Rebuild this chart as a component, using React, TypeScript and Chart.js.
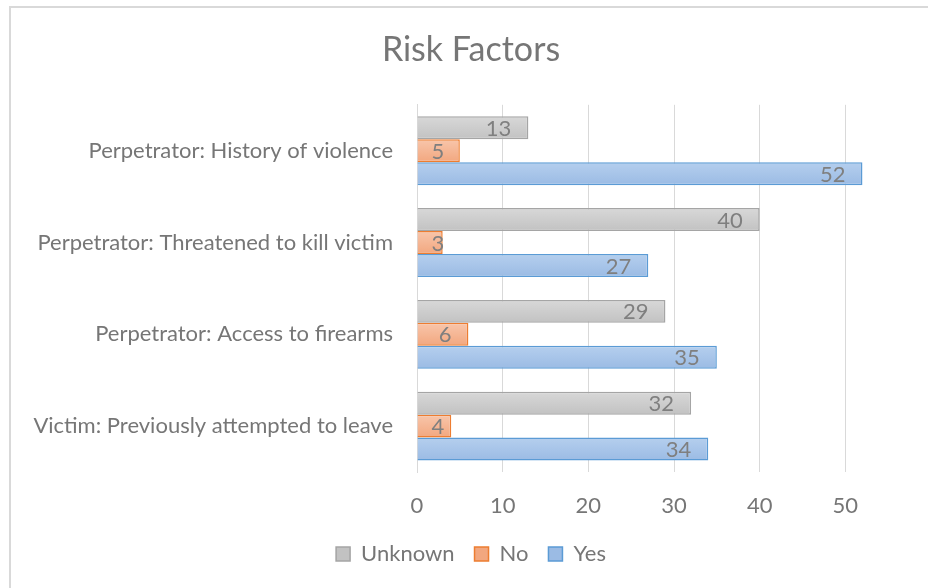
import React, { useEffect, useRef } from "react";
import { Chart, registerables } from "chart.js";

Chart.register(...registerables);

const categories = [
  "Perpetrator: History of violence",
  "Perpetrator: Threatened to kill victim",
  "Perpetrator: Access to firearms",
  "Victim: Previously attempted to leave",
];
const seriesNames = ["Unknown", "No", "Yes"];
const unknownValues = [13, 40, 29, 32];
const noValues = [5, 3, 6, 4];
const yesValues = [52, 27, 35, 34];
const xTickValues = [0, 10, 20, 30, 40, 50];
const chartTitle = "Risk Factors";

const FONT = "Lato, 'Open Sans', sans-serif";
const TEXT = "#767676";
const CAT_PCT = 0.75;

// gradient fill per bar (light top -> darker bottom), computed from the scale
function barGradient(top: string, bottom: string) {
  return (c: any) => {
    const chart = c.chart;
    const y = chart.scales && chart.scales.y;
    if (!y || c.dataIndex === undefined || !chart.chartArea) return top;
    const n = chart.data.datasets.length;
    const cat = (y.bottom - y.top) / chart.data.labels.length;
    const th = (cat * CAT_PCT) / n;
    const center = y.getPixelForValue(c.dataIndex);
    const t = center - (cat * CAT_PCT) / 2 + c.datasetIndex * th;
    const g = chart.ctx.createLinearGradient(0, t, 0, t + th);
    g.addColorStop(0, top);
    g.addColorStop(1, bottom);
    return g;
  };
}

const valueLabels = {
  id: "valueLabels",
  afterDatasetsDraw(chart: any) {
    const ctx = chart.ctx;
    ctx.save();
    ctx.font = `22px ${FONT}`;
    ctx.fillStyle = "#7f7f7f";
    ctx.textAlign = "right";
    ctx.textBaseline = "middle";
    chart.data.datasets.forEach((ds: any, i: number) => {
      const meta = chart.getDatasetMeta(i);
      meta.data.forEach((el: any, j: number) => {
        const t = String(ds.data[j]);
        const w = ctx.measureText(t).width;
        const right = Math.max(el.x - 17, el.base + w + 14);
        ctx.fillText(t, right, el.y + 1);
      });
    });
    ctx.restore();
  },
};

export default function App() {
  const ref = useRef<HTMLCanvasElement | null>(null);

  useEffect(() => {
    if (!ref.current) return;
    const chart = new Chart(ref.current, {
      type: "bar",
      data: {
        labels: categories,
        datasets: [
          {
            label: seriesNames[0],
            data: unknownValues,
            backgroundColor: barGradient("#d8d8d8", "#c2c2c2"),
            borderColor: "#a5a5a5",
            borderWidth: 1.5,
            categoryPercentage: CAT_PCT,
            barPercentage: 1,
          },
          {
            label: seriesNames[1],
            data: noValues,
            backgroundColor: barGradient("#f8c6ab", "#f2a77f"),
            borderColor: "#ed7d31",
            borderWidth: 1.5,
            categoryPercentage: CAT_PCT,
            barPercentage: 1,
          },
          {
            label: seriesNames[2],
            data: yesValues,
            backgroundColor: barGradient("#b5cfee", "#9bbbe4"),
            borderColor: "#5b9bd5",
            borderWidth: 1.5,
            categoryPercentage: CAT_PCT,
            barPercentage: 1,
          },
        ],
      },
      options: {
        indexAxis: "y",
        animation: false,
        responsive: false,
        maintainAspectRatio: false,
        layout: { padding: { left: 0, right: 0, top: 0, bottom: 13 } },
        scales: {
          x: {
            min: 0,
            max: 60,
            afterBuildTicks: (s: any) => {
              s.ticks = xTickValues.map((v) => ({ value: v }));
            },
            afterFit: (s: any) => {
              s.height = 51;
            },
            grid: { color: "#d9d9d9", lineWidth: 1, drawTicks: false },
            border: { display: false },
            ticks: {
              padding: 21,
              color: TEXT,
              font: { size: 22, family: FONT },
            },
          },
          y: {
            afterFit: (s: any) => {
              s.width = 406;
            },
            grid: { display: false, drawTicks: false },
            border: { display: true, color: "#d9d9d9", width: 1 },
            ticks: {
              padding: 24,
              color: TEXT,
              font: { size: 22, family: FONT },
            },
          },
        },
        plugins: {
          title: {
            display: true,
            text: chartTitle,
            color: TEXT,
            font: { size: 34, family: FONT, weight: "normal" },
            padding: { top: 22, bottom: 34 },
          },
          legend: {
            position: "bottom",
            labels: {
              boxWidth: 14,
              boxHeight: 14,
              padding: 20,
              color: TEXT,
              font: { size: 22, family: FONT },
            },
          },
          tooltip: { enabled: false },
        },
      },
      plugins: [valueLabels],
    } as any);
    return () => chart.destroy();
  }, []);

  return (
    <div
      style={{
        position: "fixed",
        left: 0,
        top: 0,
        width: 928,
        height: 588,
        overflow: "hidden",
        background: "#fff",
      }}
    >
      <div
        style={{
          position: "absolute",
          left: 9,
          top: 6,
          width: 920,
          height: 600,
          borderLeft: "2px solid #d9d9d9",
          borderTop: "2px solid #d9d9d9",
        }}
      >
        <canvas ref={ref} width={920} height={580} style={{ display: "block" }} />
      </div>
    </div>
  );
}
